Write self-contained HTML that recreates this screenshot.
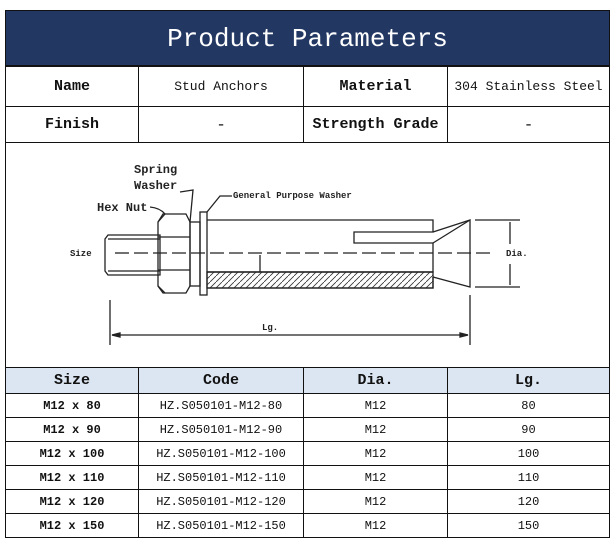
<!DOCTYPE html>
<html><head><style>
body{margin:0;width:616px;height:544px;background:#fff;position:relative;font-family:"Liberation Mono",monospace;overflow:hidden}
.a{position:absolute;box-sizing:border-box}
table{position:absolute;border-collapse:collapse;left:5px;width:605px;table-layout:fixed}
td{border:1.5px solid #111;text-align:center;padding:0;color:#111;white-space:nowrap;overflow:hidden}
.b{font-weight:bold}
</style></head><body>
<div class="a" style="left:5px;top:10px;width:605px;height:56px;background:#223762;border:1.5px solid #111;color:#fff;font-family:'Liberation Mono',monospace;font-size:26px;text-align:center;line-height:56px">Product Parameters</div>
<table style="top:66px">
<colgroup><col style="width:133px"><col style="width:165px"><col style="width:144px"><col></colgroup>
<tr style="height:40px"><td class="b" style="font-size:15px">Name</td><td style="font-size:13px">Stud Anchors</td><td class="b" style="font-size:15px">Material</td><td style="font-size:13px">304 Stainless Steel</td></tr>
<tr style="height:36px"><td class="b" style="font-size:15px">Finish</td><td>-</td><td class="b" style="font-size:15px">Strength Grade</td><td>-</td></tr>
<tr style="height:225px"><td colspan="4"></td></tr>
</table>
<table style="top:367px;font-size:12px">
<colgroup><col style="width:133px"><col style="width:165px"><col style="width:144px"><col></colgroup>
<tr style="height:26px;background:#dce6f2"><td class="b" style="font-size:15px">Size</td><td class="b" style="font-size:15px">Code</td><td class="b" style="font-size:15px">Dia.</td><td class="b" style="font-size:15px">Lg.</td></tr>
<tr style="height:24px"><td class="b">M12 x 80</td><td>HZ.S050101-M12-80</td><td>M12</td><td>80</td></tr>
<tr style="height:24px"><td class="b">M12 x 90</td><td>HZ.S050101-M12-90</td><td>M12</td><td>90</td></tr>
<tr style="height:24px"><td class="b">M12 x 100</td><td>HZ.S050101-M12-100</td><td>M12</td><td>100</td></tr>
<tr style="height:24px"><td class="b">M12 x 110</td><td>HZ.S050101-M12-110</td><td>M12</td><td>110</td></tr>
<tr style="height:24px"><td class="b">M12 x 120</td><td>HZ.S050101-M12-120</td><td>M12</td><td>120</td></tr>
<tr style="height:24px"><td class="b">M12 x 150</td><td>HZ.S050101-M12-150</td><td>M12</td><td>150</td></tr>
</table>
<svg class="a" style="left:0;top:0" width="616" height="544" fill="none" stroke="#222" stroke-width="1.3">
<defs><pattern id="h" width="6" height="6" patternUnits="userSpaceOnUse"><path d="M0 6L6 0" stroke="#333" stroke-width="0.8"/></pattern></defs>
<path d="M108 235H160V275H108L105 271V239Z"/>
<path d="M108 239H160M108 271H160"/>
<path d="M163 214H186L190 222V286L186 293H163L158 286V222Z"/>
<path d="M158 237H190M158 270H190M165 214L158 222M165 293L158 286"/>
<rect x="190" y="222" width="10" height="64"/>
<rect x="200" y="212" width="7" height="83"/>
<path d="M207 220H433V232H354V243H433V272H207M207 288H433V277"/>
<rect x="207" y="272" width="226" height="16" fill="url(#h)"/>
<path d="M207 272H433"/>
<path d="M260 255V272"/>
<path d="M433 243L470 220V287L433 277"/>
<path d="M433 232L470 220"/>
<path d="M115 253H493" stroke-dasharray="14 5"/>
<path d="M475 220H520M475 287H520M510 222V244M510 264V285"/>
<path d="M110 300V345M470 295V345M112 335H468"/>
<path d="M112 335l8-2v4zM468 335l-8-2v4z" fill="#222"/>
<path d="M150 207Q160 208 165 214M180 192L193 190 190 222M207 212L220 196H232"/>
<g fill="#222" stroke="none" font-family="Liberation Mono,monospace" font-weight="bold">
<text x="134" y="173" font-size="12">Spring</text>
<text x="134" y="189" font-size="12">Washer</text>
<text x="97" y="211" font-size="12">Hex Nut</text>
<text x="233" y="198" font-size="9">General Purpose Washer</text>
<text x="70" y="256" font-size="9">Size</text>
<text x="506" y="256" font-size="9">Dia.</text>
<text x="262" y="330" font-size="9">Lg.</text>
</g>
</svg>
</body></html>
